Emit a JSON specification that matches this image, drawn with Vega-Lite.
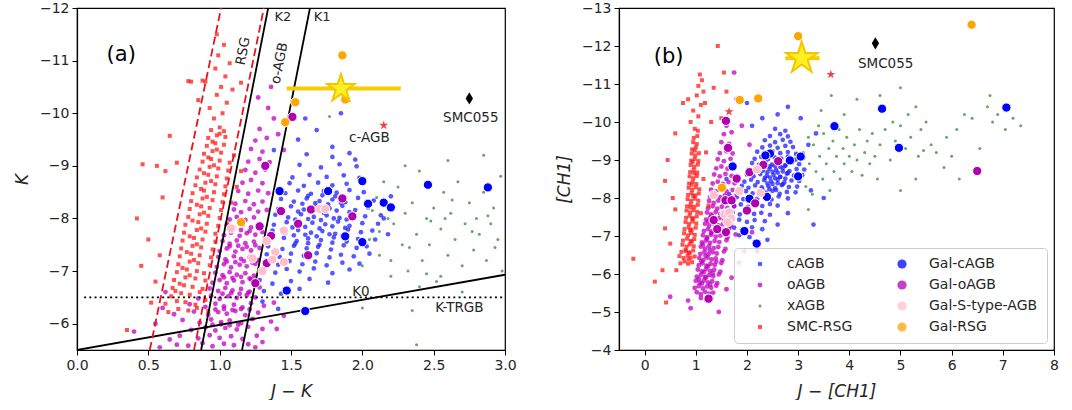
{
"$schema":"https://vega.github.io/schema/vega-lite/v6.json",
"background":"white",
"padding":{"left":12,"top":0,"right":0,"bottom":0},
"spacing":37,
"config":{
 "font":"DejaVu Sans",
 "view":{"stroke":"#000","strokeWidth":1.2},
 "axis":{"grid":false,"labelFlush":false,"labelOverlap":false,"domainColor":"#000","domainWidth":1.2,"tickColor":"#000","tickSize":5,"tickWidth":1,"labelFont":"DejaVu Sans","labelFontSize":14,"labelColor":"#262626","labelPadding":3,"titleFont":"DejaVu Sans","titleFontSize":17,"titleFontWeight":"normal","titleFontStyle":"italic","titleColor":"#262626"},
 "axisX":{"titlePadding":11},
 "axisY":{"titlePadding":8}
},
"resolve":{"scale":{"color":"independent","size":"independent","shape":"independent"},"legend":{"color":"independent","size":"independent","shape":"independent"}},
"datasets":{
"sa":[
{"x":1.31,"cAGB":-6.62},{"x":1.43,"cAGB":-6.57},{"x":1.56,"cAGB":-6.66},
{"x":1.28,"cAGB":-6.83},{"x":1.37,"cAGB":-6.76},{"x":1.5,"cAGB":-6.81},{"x":1.63,"cAGB":-6.85},{"x":1.76,"cAGB":-6.78},
{"x":1.3,"cAGB":-7.02},{"x":1.39,"cAGB":-6.97},{"x":1.47,"cAGB":-7.04},{"x":1.56,"cAGB":-6.99},{"x":1.66,"cAGB":-7.05},{"x":1.79,"cAGB":-6.96},{"x":1.91,"cAGB":-7.03},
{"x":1.32,"cAGB":-7.17},{"x":1.41,"cAGB":-7.12},{"x":1.49,"cAGB":-7.19},{"x":1.58,"cAGB":-7.13},{"x":1.67,"cAGB":-7.18},{"x":1.75,"cAGB":-7.11},{"x":1.86,"cAGB":-7.16},{"x":1.98,"cAGB":-7.14},
{"x":1.33,"cAGB":-7.32},{"x":1.42,"cAGB":-7.27},{"x":1.5,"cAGB":-7.33},{"x":1.59,"cAGB":-7.29},{"x":1.68,"cAGB":-7.34},{"x":1.77,"cAGB":-7.26},{"x":1.85,"cAGB":-7.31},{"x":1.94,"cAGB":-7.28},{"x":2.05,"cAGB":-7.33},
{"x":1.34,"cAGB":-7.47},{"x":1.44,"cAGB":-7.42},{"x":1.52,"cAGB":-7.48},{"x":1.61,"cAGB":-7.43},{"x":1.69,"cAGB":-7.46},{"x":1.78,"cAGB":-7.41},{"x":1.87,"cAGB":-7.49},{"x":1.96,"cAGB":-7.44},{"x":2.03,"cAGB":-7.47},
{"x":1.35,"cAGB":-7.58},{"x":1.45,"cAGB":-7.63},{"x":1.54,"cAGB":-7.57},{"x":1.62,"cAGB":-7.62},{"x":1.71,"cAGB":-7.59},{"x":1.8,"cAGB":-7.64},{"x":1.89,"cAGB":-7.56},{"x":1.97,"cAGB":-7.61},{"x":2.09,"cAGB":-7.6},
{"x":1.37,"cAGB":-7.77},{"x":1.46,"cAGB":-7.72},{"x":1.55,"cAGB":-7.78},{"x":1.64,"cAGB":-7.73},{"x":1.72,"cAGB":-7.76},{"x":1.81,"cAGB":-7.71},{"x":1.9,"cAGB":-7.79},{"x":1.99,"cAGB":-7.74},{"x":2.07,"cAGB":-7.77},
{"x":1.38,"cAGB":-7.88},{"x":1.47,"cAGB":-7.93},{"x":1.56,"cAGB":-7.87},{"x":1.65,"cAGB":-7.92},{"x":1.74,"cAGB":-7.89},{"x":1.83,"cAGB":-7.94},{"x":1.91,"cAGB":-7.86},{"x":2.0,"cAGB":-7.91},{"x":2.11,"cAGB":-7.9},
{"x":1.39,"cAGB":-8.07},{"x":1.48,"cAGB":-8.02},{"x":1.57,"cAGB":-8.08},{"x":1.66,"cAGB":-8.03},{"x":1.75,"cAGB":-8.06},{"x":1.84,"cAGB":-8.01},{"x":1.93,"cAGB":-8.09},{"x":2.02,"cAGB":-8.04},{"x":2.13,"cAGB":-8.06},
{"x":1.41,"cAGB":-8.18},{"x":1.5,"cAGB":-8.23},{"x":1.59,"cAGB":-8.17},{"x":1.68,"cAGB":-8.22},{"x":1.77,"cAGB":-8.19},{"x":1.86,"cAGB":-8.24},{"x":1.95,"cAGB":-8.16},{"x":2.04,"cAGB":-8.21},
{"x":1.43,"cAGB":-8.37},{"x":1.52,"cAGB":-8.32},{"x":1.61,"cAGB":-8.38},{"x":1.7,"cAGB":-8.33},{"x":1.79,"cAGB":-8.36},{"x":1.88,"cAGB":-8.31},{"x":1.97,"cAGB":-8.39},{"x":2.08,"cAGB":-8.34},
{"x":1.46,"cAGB":-8.48},{"x":1.55,"cAGB":-8.53},{"x":1.64,"cAGB":-8.47},{"x":1.73,"cAGB":-8.52},{"x":1.82,"cAGB":-8.49},{"x":1.91,"cAGB":-8.54},{"x":2.01,"cAGB":-8.5},
{"x":1.49,"cAGB":-8.67},{"x":1.59,"cAGB":-8.62},{"x":1.69,"cAGB":-8.68},{"x":1.79,"cAGB":-8.63},{"x":1.89,"cAGB":-8.66},
{"x":1.51,"cAGB":-8.78},{"x":1.63,"cAGB":-8.83},{"x":1.75,"cAGB":-8.79},{"x":1.87,"cAGB":-8.82},{"x":1.98,"cAGB":-8.77},
{"x":1.56,"cAGB":-9.02},{"x":1.71,"cAGB":-8.97},{"x":1.84,"cAGB":-9.03},{"x":1.96,"cAGB":-8.99},
{"x":1.61,"cAGB":-9.22},{"x":1.79,"cAGB":-9.17},{"x":1.91,"cAGB":-9.24},
{"x":1.53,"cAGB":-7.52},{"x":1.62,"cAGB":-7.53},{"x":1.7,"cAGB":-7.5},{"x":1.79,"cAGB":-7.54},{"x":1.52,"cAGB":-7.68},{"x":1.6,"cAGB":-7.69},{"x":1.68,"cAGB":-7.66},{"x":1.77,"cAGB":-7.7},{"x":1.86,"cAGB":-7.67},{"x":1.51,"cAGB":-7.83},{"x":1.6,"cAGB":-7.84},{"x":1.7,"cAGB":-7.81},{"x":1.79,"cAGB":-7.85},{"x":1.88,"cAGB":-7.82},{"x":1.53,"cAGB":-7.98},{"x":1.62,"cAGB":-7.99},{"x":1.71,"cAGB":-7.97},{"x":1.8,"cAGB":-8.0},{"x":1.89,"cAGB":-7.98},{"x":1.55,"cAGB":-8.13},{"x":1.64,"cAGB":-8.14},{"x":1.73,"cAGB":-8.11},{"x":1.82,"cAGB":-8.15},{"x":1.91,"cAGB":-8.12},{"x":1.58,"cAGB":-8.28},{"x":1.67,"cAGB":-8.29},{"x":1.76,"cAGB":-8.27},{"x":1.85,"cAGB":-8.3},{"x":1.62,"cAGB":-8.43},{"x":1.72,"cAGB":-8.44},{"x":1.81,"cAGB":-8.42},
{"x":1.55,"cAGB":-9.5},{"x":1.68,"cAGB":-9.68},{"x":1.79,"cAGB":-9.36},{"x":1.45,"cAGB":-9.8},{"x":1.85,"cAGB":-10.0},{"x":1.95,"cAGB":-9.12},{"x":1.38,"cAGB":-9.3},{"x":2.15,"cAGB":-8.0},{"x":2.18,"cAGB":-7.7},{"x":2.2,"cAGB":-8.42},{"x":1.3,"cAGB":-6.42},{"x":1.41,"cAGB":-6.28},{"x":1.26,"cAGB":-7.2},{"x":1.6,"cAGB":-9.9},
{"x":0.78,"oAGB":-5.58},{"x":0.88,"oAGB":-5.63},{"x":0.95,"oAGB":-5.57},{"x":1.03,"oAGB":-5.62},{"x":1.1,"oAGB":-5.59},{"x":1.2,"oAGB":-5.61},
{"x":0.72,"oAGB":-5.77},{"x":0.85,"oAGB":-5.72},{"x":0.93,"oAGB":-5.78},{"x":1.0,"oAGB":-5.73},{"x":1.08,"oAGB":-5.76},{"x":1.16,"oAGB":-5.71},{"x":1.26,"oAGB":-5.77},
{"x":0.8,"oAGB":-5.88},{"x":0.9,"oAGB":-5.93},{"x":0.97,"oAGB":-5.87},{"x":1.04,"oAGB":-5.92},{"x":1.12,"oAGB":-5.89},{"x":1.2,"oAGB":-5.94},{"x":1.3,"oAGB":-5.9},
{"x":0.74,"oAGB":-6.07},{"x":0.86,"oAGB":-6.02},{"x":0.94,"oAGB":-6.08},{"x":1.01,"oAGB":-6.03},{"x":1.07,"oAGB":-6.06},{"x":1.15,"oAGB":-6.01},{"x":1.23,"oAGB":-6.09},{"x":1.36,"oAGB":-6.04},
{"x":0.68,"oAGB":-6.18},{"x":0.82,"oAGB":-6.23},{"x":0.92,"oAGB":-6.17},{"x":0.99,"oAGB":-6.22},{"x":1.05,"oAGB":-6.19},{"x":1.11,"oAGB":-6.24},{"x":1.18,"oAGB":-6.16},{"x":1.27,"oAGB":-6.21},
{"x":0.79,"oAGB":-6.37},{"x":0.9,"oAGB":-6.32},{"x":0.97,"oAGB":-6.38},{"x":1.03,"oAGB":-6.33},{"x":1.1,"oAGB":-6.36},{"x":1.16,"oAGB":-6.31},{"x":1.22,"oAGB":-6.39},{"x":1.31,"oAGB":-6.34},
{"x":0.85,"oAGB":-6.48},{"x":0.94,"oAGB":-6.53},{"x":1.0,"oAGB":-6.47},{"x":1.06,"oAGB":-6.52},{"x":1.12,"oAGB":-6.49},{"x":1.19,"oAGB":-6.54},{"x":1.25,"oAGB":-6.5},
{"x":0.93,"oAGB":-6.67},{"x":0.99,"oAGB":-6.62},{"x":1.04,"oAGB":-6.68},{"x":1.09,"oAGB":-6.63},{"x":1.15,"oAGB":-6.66},{"x":1.21,"oAGB":-6.61},{"x":1.28,"oAGB":-6.69},
{"x":0.95,"oAGB":-6.78},{"x":1.0,"oAGB":-6.83},{"x":1.05,"oAGB":-6.77},{"x":1.1,"oAGB":-6.82},{"x":1.16,"oAGB":-6.79},{"x":1.22,"oAGB":-6.84},{"x":1.27,"oAGB":-6.8},
{"x":0.97,"oAGB":-6.97},{"x":1.02,"oAGB":-6.92},{"x":1.07,"oAGB":-6.98},{"x":1.12,"oAGB":-6.93},{"x":1.18,"oAGB":-6.96},{"x":1.24,"oAGB":-6.91},{"x":1.3,"oAGB":-6.99},
{"x":0.98,"oAGB":-7.08},{"x":1.03,"oAGB":-7.13},{"x":1.08,"oAGB":-7.07},{"x":1.14,"oAGB":-7.12},{"x":1.19,"oAGB":-7.09},{"x":1.25,"oAGB":-7.14},
{"x":0.99,"oAGB":-7.27},{"x":1.04,"oAGB":-7.22},{"x":1.1,"oAGB":-7.28},{"x":1.15,"oAGB":-7.23},{"x":1.21,"oAGB":-7.26},{"x":1.27,"oAGB":-7.21},
{"x":1.0,"oAGB":-7.38},{"x":1.05,"oAGB":-7.43},{"x":1.11,"oAGB":-7.37},{"x":1.16,"oAGB":-7.42},{"x":1.22,"oAGB":-7.39},{"x":1.28,"oAGB":-7.44},
{"x":1.02,"oAGB":-7.57},{"x":1.07,"oAGB":-7.52},{"x":1.12,"oAGB":-7.58},{"x":1.18,"oAGB":-7.53},{"x":1.24,"oAGB":-7.56},
{"x":1.03,"oAGB":-7.68},{"x":1.08,"oAGB":-7.73},{"x":1.14,"oAGB":-7.67},{"x":1.19,"oAGB":-7.72},{"x":1.25,"oAGB":-7.69},{"x":1.3,"oAGB":-7.74},
{"x":1.05,"oAGB":-7.87},{"x":1.1,"oAGB":-7.82},{"x":1.16,"oAGB":-7.88},{"x":1.22,"oAGB":-7.83},{"x":1.28,"oAGB":-7.86},
{"x":1.07,"oAGB":-7.98},{"x":1.12,"oAGB":-8.03},{"x":1.18,"oAGB":-7.97},{"x":1.24,"oAGB":-8.02},
{"x":1.1,"oAGB":-8.17},{"x":1.15,"oAGB":-8.12},{"x":1.21,"oAGB":-8.18},{"x":1.27,"oAGB":-8.13},{"x":1.33,"oAGB":-8.16},
{"x":1.11,"oAGB":-8.28},{"x":1.18,"oAGB":-8.33},{"x":1.24,"oAGB":-8.27},{"x":1.3,"oAGB":-8.32},
{"x":1.13,"oAGB":-8.52},{"x":1.2,"oAGB":-8.47},{"x":1.27,"oAGB":-8.53},{"x":1.34,"oAGB":-8.48},
{"x":1.16,"oAGB":-8.68},{"x":1.22,"oAGB":-8.73},{"x":1.3,"oAGB":-8.67},
{"x":1.18,"oAGB":-8.92},{"x":1.25,"oAGB":-8.87},{"x":1.32,"oAGB":-8.93},
{"x":1.2,"oAGB":-9.08},{"x":1.28,"oAGB":-9.13},{"x":1.35,"oAGB":-9.07},
{"x":1.22,"oAGB":-9.32},{"x":1.3,"oAGB":-9.27},{"x":1.25,"oAGB":-9.48},{"x":1.33,"oAGB":-9.53},
{"x":1.28,"oAGB":-9.7},{"x":1.38,"oAGB":-9.9},{"x":1.34,"oAGB":-10.1},{"x":1.27,"oAGB":-10.3},{"x":1.36,"oAGB":-10.5},{"x":1.41,"oAGB":-9.6},{"x":1.45,"oAGB":-9.3},
{"x":0.6,"oAGB":-6.3},{"x":0.55,"oAGB":-6.0},{"x":0.65,"oAGB":-5.7},{"x":0.4,"oAGB":-5.85},{"x":0.7,"oAGB":-5.6},{"x":1.4,"oAGB":-5.9},{"x":1.45,"oAGB":-6.15},{"x":1.3,"oAGB":-5.65},{"x":1.25,"oAGB":-5.55},{"x":1.38,"oAGB":-6.4},{"x":0.62,"oAGB":-6.6},{"x":0.58,"oAGB":-5.55},
{"x":1.02,"oAGB":-6.57},{"x":1.08,"oAGB":-6.58},{"x":1.14,"oAGB":-6.57},{"x":1.2,"oAGB":-6.59},{"x":1.03,"oAGB":-6.88},{"x":1.09,"oAGB":-6.87},{"x":1.15,"oAGB":-6.89},{"x":1.21,"oAGB":-6.86},{"x":1.05,"oAGB":-7.18},{"x":1.11,"oAGB":-7.17},{"x":1.17,"oAGB":-7.19},{"x":1.23,"oAGB":-7.16},{"x":1.07,"oAGB":-7.47},{"x":1.13,"oAGB":-7.48},{"x":1.19,"oAGB":-7.46},{"x":1.25,"oAGB":-7.49},{"x":1.09,"oAGB":-7.77},{"x":1.15,"oAGB":-7.78},{"x":1.21,"oAGB":-7.76},{"x":0.97,"oAGB":-6.27},{"x":1.03,"oAGB":-6.28},{"x":1.09,"oAGB":-6.26},{"x":1.15,"oAGB":-6.28},{"x":1.21,"oAGB":-6.27},{"x":0.95,"oAGB":-5.98},{"x":1.01,"oAGB":-5.99},{"x":1.07,"oAGB":-5.97},{"x":1.13,"oAGB":-5.98},
{"x":2.0,"xAGB":-7.1},{"x":2.05,"xAGB":-7.6},{"x":2.1,"xAGB":-8.4},{"x":2.12,"xAGB":-7.3},{"x":2.18,"xAGB":-8.0},{"x":2.2,"xAGB":-6.9},{"x":2.22,"xAGB":-7.9},{"x":2.25,"xAGB":-8.6},{"x":2.28,"xAGB":-7.5},{"x":2.3,"xAGB":-8.1},{"x":2.32,"xAGB":-7.0},{"x":2.35,"xAGB":-8.3},{"x":2.38,"xAGB":-7.7},{"x":2.4,"xAGB":-8.9},{"x":2.42,"xAGB":-7.2},{"x":2.45,"xAGB":-8.0},{"x":2.47,"xAGB":-7.5},{"x":2.5,"xAGB":-8.2},{"x":2.52,"xAGB":-6.8},{"x":2.55,"xAGB":-7.8},{"x":2.57,"xAGB":-8.5},{"x":2.6,"xAGB":-7.3},{"x":2.62,"xAGB":-8.1},{"x":2.65,"xAGB":-7.6},{"x":2.67,"xAGB":-8.7},{"x":2.7,"xAGB":-7.1},{"x":2.72,"xAGB":-7.9},{"x":2.75,"xAGB":-8.3},{"x":2.78,"xAGB":-7.4},{"x":2.8,"xAGB":-8.0},{"x":2.82,"xAGB":-7.7},{"x":2.85,"xAGB":-8.5},{"x":2.87,"xAGB":-7.2},{"x":2.9,"xAGB":-7.9},{"x":2.92,"xAGB":-8.2},{"x":2.95,"xAGB":-7.6},{"x":2.97,"xAGB":-8.8},{"x":2.98,"xAGB":-7.0},{"x":2.15,"xAGB":-8.7},{"x":2.3,"xAGB":-9.0},{"x":2.6,"xAGB":-9.1},{"x":2.85,"xAGB":-9.2},{"x":2.4,"xAGB":-6.7},{"x":2.7,"xAGB":-6.6},{"x":2.2,"xAGB":-7.2},{"x":2.33,"xAGB":-7.45},{"x":2.48,"xAGB":-7.95},{"x":2.58,"xAGB":-8.0},{"x":2.63,"xAGB":-8.35},{"x":2.77,"xAGB":-7.75},{"x":2.88,"xAGB":-8.05},{"x":2.93,"xAGB":-7.45},{"x":2.07,"xAGB":-8.15},{"x":2.12,"xAGB":-7.75},{"x":2.45,"xAGB":-6.95},{"x":2.55,"xAGB":-6.9},{"x":2.35,"xAGB":-6.25},{"x":2.38,"xAGB":-5.6},{"x":2.0,"xAGB":-6.3},{"x":1.77,"xAGB":-9.94},
{"x":0.64,"SMC-RSG":-6.22},{"x":0.71,"SMC-RSG":-6.28},{"x":0.78,"SMC-RSG":-6.25},{"x":0.84,"SMC-RSG":-6.3},{"x":0.92,"SMC-RSG":-6.24},
{"x":0.62,"SMC-RSG":-6.38},{"x":0.7,"SMC-RSG":-6.43},{"x":0.76,"SMC-RSG":-6.41},{"x":0.83,"SMC-RSG":-6.36},{"x":0.9,"SMC-RSG":-6.45},
{"x":0.66,"SMC-RSG":-6.52},{"x":0.73,"SMC-RSG":-6.58},{"x":0.79,"SMC-RSG":-6.55},{"x":0.86,"SMC-RSG":-6.6},{"x":0.69,"SMC-RSG":-6.62},
{"x":0.67,"SMC-RSG":-6.68},{"x":0.75,"SMC-RSG":-6.73},{"x":0.81,"SMC-RSG":-6.7},{"x":0.88,"SMC-RSG":-6.66},{"x":0.72,"SMC-RSG":-6.76},
{"x":0.68,"SMC-RSG":-6.83},{"x":0.76,"SMC-RSG":-6.88},{"x":0.83,"SMC-RSG":-6.86},{"x":0.9,"SMC-RSG":-6.82},{"x":0.79,"SMC-RSG":-6.92},
{"x":0.7,"SMC-RSG":-6.98},{"x":0.77,"SMC-RSG":-7.03},{"x":0.84,"SMC-RSG":-7.0},{"x":0.89,"SMC-RSG":-6.96},{"x":0.74,"SMC-RSG":-7.06},
{"x":0.71,"SMC-RSG":-7.13},{"x":0.79,"SMC-RSG":-7.18},{"x":0.85,"SMC-RSG":-7.15},{"x":0.93,"SMC-RSG":-7.11},{"x":0.82,"SMC-RSG":-7.21},
{"x":0.72,"SMC-RSG":-7.28},{"x":0.8,"SMC-RSG":-7.33},{"x":0.86,"SMC-RSG":-7.3},{"x":0.94,"SMC-RSG":-7.26},{"x":0.77,"SMC-RSG":-7.36},
{"x":0.73,"SMC-RSG":-7.43},{"x":0.81,"SMC-RSG":-7.48},{"x":0.87,"SMC-RSG":-7.45},{"x":0.95,"SMC-RSG":-7.41},{"x":0.84,"SMC-RSG":-7.51},
{"x":0.74,"SMC-RSG":-7.58},{"x":0.82,"SMC-RSG":-7.63},{"x":0.88,"SMC-RSG":-7.6},{"x":0.97,"SMC-RSG":-7.56},{"x":0.79,"SMC-RSG":-7.66},
{"x":0.75,"SMC-RSG":-7.73},{"x":0.84,"SMC-RSG":-7.78},{"x":0.9,"SMC-RSG":-7.75},{"x":0.97,"SMC-RSG":-7.71},{"x":0.87,"SMC-RSG":-7.81},
{"x":0.76,"SMC-RSG":-7.88},{"x":0.85,"SMC-RSG":-7.93},{"x":0.91,"SMC-RSG":-7.9},{"x":0.99,"SMC-RSG":-7.86},{"x":0.81,"SMC-RSG":-7.96},
{"x":0.78,"SMC-RSG":-8.03},{"x":0.86,"SMC-RSG":-8.08},{"x":0.92,"SMC-RSG":-8.05},{"x":1.0,"SMC-RSG":-8.01},{"x":0.89,"SMC-RSG":-8.11},
{"x":0.79,"SMC-RSG":-8.18},{"x":0.87,"SMC-RSG":-8.23},{"x":0.93,"SMC-RSG":-8.2},{"x":1.01,"SMC-RSG":-8.16},{"x":0.84,"SMC-RSG":-8.26},
{"x":0.8,"SMC-RSG":-8.33},{"x":0.88,"SMC-RSG":-8.38},{"x":0.95,"SMC-RSG":-8.35},{"x":1.02,"SMC-RSG":-8.31},{"x":0.91,"SMC-RSG":-8.41},
{"x":0.81,"SMC-RSG":-8.48},{"x":0.89,"SMC-RSG":-8.53},{"x":0.96,"SMC-RSG":-8.5},{"x":1.03,"SMC-RSG":-8.46},{"x":0.87,"SMC-RSG":-8.56},
{"x":0.83,"SMC-RSG":-8.63},{"x":0.9,"SMC-RSG":-8.68},{"x":0.97,"SMC-RSG":-8.65},{"x":1.04,"SMC-RSG":-8.61},{"x":0.94,"SMC-RSG":-8.71},
{"x":0.84,"SMC-RSG":-8.78},{"x":0.92,"SMC-RSG":-8.83},{"x":0.98,"SMC-RSG":-8.8},{"x":1.05,"SMC-RSG":-8.76},{"x":0.89,"SMC-RSG":-8.86},
{"x":0.86,"SMC-RSG":-8.93},{"x":0.93,"SMC-RSG":-8.98},{"x":0.99,"SMC-RSG":-8.95},{"x":1.06,"SMC-RSG":-8.91},{"x":0.96,"SMC-RSG":-9.01},
{"x":0.88,"SMC-RSG":-9.08},{"x":0.94,"SMC-RSG":-9.13},{"x":1.0,"SMC-RSG":-9.1},{"x":1.07,"SMC-RSG":-9.06},{"x":0.92,"SMC-RSG":-9.16},
{"x":0.89,"SMC-RSG":-9.23},{"x":0.95,"SMC-RSG":-9.28},{"x":1.01,"SMC-RSG":-9.25},{"x":0.98,"SMC-RSG":-9.31},
{"x":0.91,"SMC-RSG":-9.38},{"x":0.97,"SMC-RSG":-9.43},{"x":1.03,"SMC-RSG":-9.4},{"x":0.95,"SMC-RSG":-9.46},
{"x":0.92,"SMC-RSG":-9.53},{"x":0.98,"SMC-RSG":-9.58},{"x":1.04,"SMC-RSG":-9.55},{"x":1.0,"SMC-RSG":-9.61},
{"x":0.94,"SMC-RSG":-9.68},{"x":1.0,"SMC-RSG":-9.73},{"x":1.03,"SMC-RSG":-9.66},
{"x":0.96,"SMC-RSG":-9.9},{"x":1.02,"SMC-RSG":-10.0},{"x":0.93,"SMC-RSG":-10.1},{"x":1.05,"SMC-RSG":-10.2},{"x":0.98,"SMC-RSG":-10.35},{"x":1.01,"SMC-RSG":-10.5},{"x":0.9,"SMC-RSG":-10.6},{"x":1.04,"SMC-RSG":-10.7},{"x":0.97,"SMC-RSG":-10.85},{"x":1.07,"SMC-RSG":-10.95},{"x":0.99,"SMC-RSG":-11.1},{"x":1.03,"SMC-RSG":-11.3},{"x":0.98,"SMC-RSG":-11.5},{"x":0.88,"SMC-RSG":-10.62},{"x":1.09,"SMC-RSG":-10.45},{"x":0.85,"SMC-RSG":-10.25},{"x":0.8,"SMC-RSG":-10.6},{"x":1.15,"SMC-RSG":-10.58},{"x":0.78,"SMC-RSG":-10.61},
{"x":0.46,"SMC-RSG":-9.03},{"x":0.56,"SMC-RSG":-9.0},{"x":0.65,"SMC-RSG":-9.57},{"x":0.7,"SMC-RSG":-9.06},{"x":0.42,"SMC-RSG":-8.0},{"x":0.5,"SMC-RSG":-7.6},{"x":0.45,"SMC-RSG":-7.1},{"x":0.55,"SMC-RSG":-6.8},{"x":0.35,"SMC-RSG":-5.88},{"x":0.6,"SMC-RSG":-8.4},{"x":0.58,"SMC-RSG":-7.3},{"x":0.52,"SMC-RSG":-6.4},{"x":0.62,"SMC-RSG":-8.9},
{"x":1.08,"SMC-RSG":-8.3},{"x":1.12,"SMC-RSG":-8.6},{"x":1.05,"SMC-RSG":-7.9},{"x":1.1,"SMC-RSG":-9.2},{"x":1.15,"SMC-RSG":-8.9}
],
"ga":[
{"x":1.42,"y":-8.52,"c":"Gal-cAGB"},{"x":1.76,"y":-8.52,"c":"Gal-cAGB"},{"x":2.0,"y":-8.71,"c":"Gal-cAGB"},{"x":2.04,"y":-8.28,"c":"Gal-cAGB"},{"x":2.15,"y":-8.3,"c":"Gal-cAGB"},{"x":2.2,"y":-8.21,"c":"Gal-cAGB"},{"x":2.46,"y":-8.64,"c":"Gal-cAGB"},{"x":2.88,"y":-8.59,"c":"Gal-cAGB"},{"x":1.88,"y":-7.66,"c":"Gal-cAGB"},{"x":2.0,"y":-7.55,"c":"Gal-cAGB"},{"x":1.47,"y":-6.63,"c":"Gal-cAGB"},{"x":1.6,"y":-6.24,"c":"Gal-cAGB"},
{"x":1.51,"y":-9.93,"c":"Gal-oAGB"},{"x":1.32,"y":-9.0,"c":"Gal-oAGB"},{"x":1.43,"y":-8.14,"c":"Gal-oAGB"},{"x":1.64,"y":-8.17,"c":"Gal-oAGB"},{"x":1.55,"y":-7.9,"c":"Gal-oAGB"},{"x":1.86,"y":-8.38,"c":"Gal-oAGB"},{"x":1.93,"y":-8.04,"c":"Gal-oAGB"},{"x":1.62,"y":-7.3,"c":"Gal-oAGB"},{"x":1.36,"y":-7.67,"c":"Gal-oAGB"},{"x":1.33,"y":-7.15,"c":"Gal-oAGB"},{"x":1.25,"y":-6.77,"c":"Gal-oAGB"},{"x":1.28,"y":-7.85,"c":"Gal-oAGB"},
{"x":1.08,"y":-7.81,"c":"Gal-S-type-AGB"},{"x":1.23,"y":-7.24,"c":"Gal-S-type-AGB"},{"x":1.45,"y":-7.77,"c":"Gal-S-type-AGB"},{"x":1.39,"y":-7.36,"c":"Gal-S-type-AGB"},{"x":1.37,"y":-7.22,"c":"Gal-S-type-AGB"},{"x":1.45,"y":-7.17,"c":"Gal-S-type-AGB"},{"x":1.7,"y":-8.18,"c":"Gal-S-type-AGB"},{"x":1.74,"y":-8.18,"c":"Gal-S-type-AGB"},{"x":1.33,"y":-7.57,"c":"Gal-S-type-AGB"},{"x":1.3,"y":-7.0,"c":"Gal-S-type-AGB"},
{"x":1.86,"y":-11.1,"c":"Gal-RSG"},{"x":1.53,"y":-10.21,"c":"Gal-RSG"},{"x":1.46,"y":-9.83,"c":"Gal-RSG"},{"x":1.15,"y":-7.93,"c":"Gal-RSG"},{"x":1.88,"y":-10.26,"c":"Gal-RSG"}
],
"sb":[
{"x":1.85,"cAGB":-7.02},{"x":2.05,"cAGB":-6.97},
{"x":1.75,"cAGB":-7.22},{"x":1.9,"cAGB":-7.17},{"x":2.1,"cAGB":-7.23},{"x":2.3,"cAGB":-7.18},
{"x":1.7,"cAGB":-7.38},{"x":1.85,"cAGB":-7.43},{"x":2.0,"cAGB":-7.37},{"x":2.15,"cAGB":-7.42},{"x":2.35,"cAGB":-7.39},
{"x":1.72,"cAGB":-7.62},{"x":1.86,"cAGB":-7.57},{"x":2.0,"cAGB":-7.63},{"x":2.14,"cAGB":-7.58},{"x":2.28,"cAGB":-7.61},{"x":2.45,"cAGB":-7.56},
{"x":1.75,"cAGB":-7.78},{"x":1.88,"cAGB":-7.83},{"x":2.02,"cAGB":-7.77},{"x":2.16,"cAGB":-7.82},{"x":2.3,"cAGB":-7.79},{"x":2.45,"cAGB":-7.84},{"x":2.6,"cAGB":-7.8},
{"x":1.8,"cAGB":-8.02},{"x":1.93,"cAGB":-7.97},{"x":2.06,"cAGB":-8.03},{"x":2.2,"cAGB":-7.98},{"x":2.34,"cAGB":-8.01},{"x":2.48,"cAGB":-7.96},{"x":2.62,"cAGB":-8.04},{"x":2.8,"cAGB":-7.99},
{"x":1.85,"cAGB":-8.13},{"x":1.98,"cAGB":-8.18},{"x":2.11,"cAGB":-8.12},{"x":2.24,"cAGB":-8.17},{"x":2.37,"cAGB":-8.14},{"x":2.5,"cAGB":-8.19},{"x":2.64,"cAGB":-8.11},{"x":2.78,"cAGB":-8.16},{"x":2.95,"cAGB":-8.15},
{"x":1.9,"cAGB":-8.32},{"x":2.03,"cAGB":-8.27},{"x":2.16,"cAGB":-8.33},{"x":2.29,"cAGB":-8.28},{"x":2.42,"cAGB":-8.31},{"x":2.55,"cAGB":-8.26},{"x":2.68,"cAGB":-8.34},{"x":2.82,"cAGB":-8.29},{"x":2.98,"cAGB":-8.3},
{"x":1.95,"cAGB":-8.43},{"x":2.08,"cAGB":-8.48},{"x":2.21,"cAGB":-8.42},{"x":2.34,"cAGB":-8.47},{"x":2.47,"cAGB":-8.44},{"x":2.6,"cAGB":-8.49},{"x":2.73,"cAGB":-8.41},{"x":2.87,"cAGB":-8.46},{"x":3.02,"cAGB":-8.45},
{"x":2.0,"cAGB":-8.62},{"x":2.13,"cAGB":-8.57},{"x":2.26,"cAGB":-8.63},{"x":2.39,"cAGB":-8.58},{"x":2.52,"cAGB":-8.61},{"x":2.65,"cAGB":-8.56},{"x":2.78,"cAGB":-8.64},{"x":2.92,"cAGB":-8.59},{"x":3.08,"cAGB":-8.6},
{"x":2.05,"cAGB":-8.73},{"x":2.18,"cAGB":-8.78},{"x":2.31,"cAGB":-8.72},{"x":2.44,"cAGB":-8.77},{"x":2.57,"cAGB":-8.74},{"x":2.7,"cAGB":-8.79},{"x":2.83,"cAGB":-8.71},{"x":2.97,"cAGB":-8.76},{"x":3.12,"cAGB":-8.75},
{"x":2.1,"cAGB":-8.92},{"x":2.23,"cAGB":-8.87},{"x":2.36,"cAGB":-8.93},{"x":2.49,"cAGB":-8.88},{"x":2.62,"cAGB":-8.91},{"x":2.75,"cAGB":-8.86},{"x":2.88,"cAGB":-8.94},{"x":3.02,"cAGB":-8.89},
{"x":2.15,"cAGB":-9.03},{"x":2.28,"cAGB":-9.08},{"x":2.41,"cAGB":-9.02},{"x":2.54,"cAGB":-9.07},{"x":2.67,"cAGB":-9.04},{"x":2.8,"cAGB":-9.09},{"x":2.95,"cAGB":-9.01},{"x":3.1,"cAGB":-9.06},
{"x":2.2,"cAGB":-9.22},{"x":2.35,"cAGB":-9.17},{"x":2.5,"cAGB":-9.23},{"x":2.65,"cAGB":-9.18},{"x":2.8,"cAGB":-9.21},{"x":2.96,"cAGB":-9.16},
{"x":2.3,"cAGB":-9.33},{"x":2.45,"cAGB":-9.38},{"x":2.6,"cAGB":-9.32},{"x":2.75,"cAGB":-9.37},{"x":2.9,"cAGB":-9.34},
{"x":2.35,"cAGB":-9.52},{"x":2.55,"cAGB":-9.47},{"x":2.7,"cAGB":-9.53},{"x":2.85,"cAGB":-9.48},
{"x":2.45,"cAGB":-9.63},{"x":2.65,"cAGB":-9.68},{"x":2.8,"cAGB":-9.62},{"x":2.55,"cAGB":-9.82},{"x":2.75,"cAGB":-9.77},
{"x":2.4,"cAGB":-8.38},{"x":2.5,"cAGB":-8.37},{"x":2.6,"cAGB":-8.39},{"x":2.7,"cAGB":-8.36},{"x":2.35,"cAGB":-8.53},{"x":2.45,"cAGB":-8.54},{"x":2.55,"cAGB":-8.52},{"x":2.65,"cAGB":-8.55},{"x":2.75,"cAGB":-8.51},{"x":2.4,"cAGB":-8.68},{"x":2.5,"cAGB":-8.69},{"x":2.6,"cAGB":-8.67},{"x":2.7,"cAGB":-8.7},{"x":2.8,"cAGB":-8.66},{"x":2.45,"cAGB":-8.83},{"x":2.55,"cAGB":-8.84},{"x":2.65,"cAGB":-8.82},{"x":2.75,"cAGB":-8.85},{"x":2.3,"cAGB":-8.22},{"x":2.44,"cAGB":-8.23},{"x":2.57,"cAGB":-8.21},
{"x":2.1,"cAGB":-9.9},{"x":2.3,"cAGB":-10.1},{"x":2.6,"cAGB":-10.2},{"x":2.8,"cAGB":-10.4},{"x":3.05,"cAGB":-10.1},{"x":2.0,"cAGB":-10.5},{"x":3.3,"cAGB":-7.3},{"x":3.5,"cAGB":-8.0},{"x":3.25,"cAGB":-8.2},{"x":2.6,"cAGB":-7.3},{"x":2.8,"cAGB":-7.6},{"x":3.2,"cAGB":-9.4},{"x":3.35,"cAGB":-9.7},{"x":1.65,"cAGB":-8.1},{"x":1.6,"cAGB":-8.5},{"x":2.4,"cAGB":-6.9},
{"x":1.1,"oAGB":-5.37},{"x":1.2,"oAGB":-5.32},{"x":1.3,"oAGB":-5.36},
{"x":1.02,"oAGB":-5.52},{"x":1.1,"oAGB":-5.47},{"x":1.18,"oAGB":-5.53},{"x":1.26,"oAGB":-5.48},{"x":1.34,"oAGB":-5.51},
{"x":0.98,"oAGB":-5.63},{"x":1.06,"oAGB":-5.68},{"x":1.14,"oAGB":-5.62},{"x":1.22,"oAGB":-5.67},{"x":1.3,"oAGB":-5.64},{"x":1.4,"oAGB":-5.69},
{"x":1.0,"oAGB":-5.82},{"x":1.08,"oAGB":-5.77},{"x":1.16,"oAGB":-5.83},{"x":1.24,"oAGB":-5.78},{"x":1.32,"oAGB":-5.81},{"x":1.42,"oAGB":-5.76},
{"x":1.02,"oAGB":-5.93},{"x":1.1,"oAGB":-5.98},{"x":1.18,"oAGB":-5.92},{"x":1.26,"oAGB":-5.97},{"x":1.34,"oAGB":-5.94},{"x":1.45,"oAGB":-5.99},
{"x":1.04,"oAGB":-6.12},{"x":1.12,"oAGB":-6.07},{"x":1.2,"oAGB":-6.13},{"x":1.28,"oAGB":-6.08},{"x":1.36,"oAGB":-6.11},{"x":1.48,"oAGB":-6.06},
{"x":1.06,"oAGB":-6.23},{"x":1.13,"oAGB":-6.28},{"x":1.21,"oAGB":-6.22},{"x":1.29,"oAGB":-6.27},{"x":1.37,"oAGB":-6.24},{"x":1.5,"oAGB":-6.29},
{"x":1.07,"oAGB":-6.42},{"x":1.15,"oAGB":-6.37},{"x":1.23,"oAGB":-6.43},{"x":1.31,"oAGB":-6.38},{"x":1.39,"oAGB":-6.41},{"x":1.52,"oAGB":-6.36},
{"x":1.09,"oAGB":-6.53},{"x":1.17,"oAGB":-6.58},{"x":1.25,"oAGB":-6.52},{"x":1.33,"oAGB":-6.57},{"x":1.41,"oAGB":-6.54},{"x":1.55,"oAGB":-6.59},
{"x":1.1,"oAGB":-6.72},{"x":1.18,"oAGB":-6.67},{"x":1.26,"oAGB":-6.73},{"x":1.35,"oAGB":-6.68},{"x":1.44,"oAGB":-6.71},{"x":1.58,"oAGB":-6.66},
{"x":1.12,"oAGB":-6.83},{"x":1.2,"oAGB":-6.88},{"x":1.28,"oAGB":-6.82},{"x":1.37,"oAGB":-6.87},{"x":1.46,"oAGB":-6.84},{"x":1.6,"oAGB":-6.89},
{"x":1.14,"oAGB":-7.02},{"x":1.22,"oAGB":-6.97},{"x":1.3,"oAGB":-7.03},{"x":1.39,"oAGB":-6.98},{"x":1.48,"oAGB":-7.01},{"x":1.62,"oAGB":-6.96},{"x":1.78,"oAGB":-7.04},
{"x":1.16,"oAGB":-7.13},{"x":1.24,"oAGB":-7.18},{"x":1.32,"oAGB":-7.12},{"x":1.41,"oAGB":-7.17},{"x":1.5,"oAGB":-7.14},{"x":1.65,"oAGB":-7.19},
{"x":1.18,"oAGB":-7.32},{"x":1.26,"oAGB":-7.27},{"x":1.35,"oAGB":-7.33},{"x":1.44,"oAGB":-7.28},{"x":1.53,"oAGB":-7.31},{"x":1.68,"oAGB":-7.26},
{"x":1.2,"oAGB":-7.43},{"x":1.28,"oAGB":-7.48},{"x":1.37,"oAGB":-7.42},{"x":1.46,"oAGB":-7.47},{"x":1.56,"oAGB":-7.44},{"x":1.7,"oAGB":-7.49},
{"x":1.22,"oAGB":-7.62},{"x":1.3,"oAGB":-7.57},{"x":1.39,"oAGB":-7.63},{"x":1.48,"oAGB":-7.58},{"x":1.58,"oAGB":-7.61},
{"x":1.24,"oAGB":-7.73},{"x":1.33,"oAGB":-7.78},{"x":1.42,"oAGB":-7.72},{"x":1.51,"oAGB":-7.77},{"x":1.62,"oAGB":-7.74},{"x":1.75,"oAGB":-7.79},
{"x":1.26,"oAGB":-7.92},{"x":1.35,"oAGB":-7.87},{"x":1.44,"oAGB":-7.93},{"x":1.54,"oAGB":-7.88},{"x":1.65,"oAGB":-7.91},
{"x":1.28,"oAGB":-8.03},{"x":1.37,"oAGB":-8.08},{"x":1.47,"oAGB":-8.02},{"x":1.57,"oAGB":-8.07},{"x":1.68,"oAGB":-8.04},{"x":1.8,"oAGB":-8.09},
{"x":1.3,"oAGB":-8.22},{"x":1.4,"oAGB":-8.17},{"x":1.5,"oAGB":-8.23},{"x":1.6,"oAGB":-8.18},{"x":1.72,"oAGB":-8.21},
{"x":1.33,"oAGB":-8.38},{"x":1.43,"oAGB":-8.43},{"x":1.53,"oAGB":-8.37},{"x":1.64,"oAGB":-8.42},{"x":1.76,"oAGB":-8.39},
{"x":1.36,"oAGB":-8.62},{"x":1.47,"oAGB":-8.57},{"x":1.58,"oAGB":-8.63},{"x":1.7,"oAGB":-8.58},
{"x":1.4,"oAGB":-8.78},{"x":1.5,"oAGB":-8.83},{"x":1.62,"oAGB":-8.77},{"x":1.75,"oAGB":-8.82},
{"x":1.43,"oAGB":-9.02},{"x":1.55,"oAGB":-8.97},{"x":1.68,"oAGB":-9.03},
{"x":1.47,"oAGB":-9.18},{"x":1.6,"oAGB":-9.23},{"x":1.72,"oAGB":-9.17},
{"x":1.5,"oAGB":-9.47},{"x":1.65,"oAGB":-9.42},{"x":1.55,"oAGB":-9.68},{"x":1.7,"oAGB":-9.73},{"x":1.6,"oAGB":-9.9},
{"x":1.12,"oAGB":-5.75},{"x":1.2,"oAGB":-5.9},{"x":1.16,"oAGB":-6.05},{"x":1.24,"oAGB":-6.2},{"x":1.11,"oAGB":-6.33},{"x":1.19,"oAGB":-6.48},{"x":1.27,"oAGB":-6.63},{"x":1.14,"oAGB":-6.78},{"x":1.22,"oAGB":-6.93},{"x":1.3,"oAGB":-7.08},{"x":1.24,"oAGB":-7.38},{"x":1.32,"oAGB":-7.53},{"x":1.06,"oAGB":-5.87},{"x":1.28,"oAGB":-5.72},{"x":1.33,"oAGB":-6.02},{"x":1.4,"oAGB":-6.32},
{"x":1.8,"oAGB":-10.6},{"x":1.75,"oAGB":-11.3},{"x":1.9,"oAGB":-9.9},{"x":2.05,"oAGB":-9.4},{"x":2.1,"oAGB":-7.1},{"x":1.95,"oAGB":-6.6},{"x":1.85,"oAGB":-6.3},{"x":1.6,"oAGB":-5.6},{"x":0.85,"oAGB":-5.3},{"x":0.9,"oAGB":-5.1},{"x":1.7,"oAGB":-5.9},{"x":2.2,"oAGB":-6.6},{"x":1.45,"oAGB":-5.0},{"x":0.5,"oAGB":-5.4},
{"x":3.05,"xAGB":-8.6},{"x":3.1,"xAGB":-9.2},{"x":3.15,"xAGB":-8.3},{"x":3.2,"xAGB":-9.6},{"x":3.22,"xAGB":-8.9},{"x":3.28,"xAGB":-8.1},{"x":3.3,"xAGB":-9.4},{"x":3.35,"xAGB":-8.7},{"x":3.4,"xAGB":-9.9},{"x":3.42,"xAGB":-9.1},{"x":3.48,"xAGB":-8.5},{"x":3.5,"xAGB":-9.7},{"x":3.55,"xAGB":-8.9},{"x":3.6,"xAGB":-9.3},{"x":3.62,"xAGB":-8.2},{"x":3.68,"xAGB":-9.5},{"x":3.7,"xAGB":-8.7},{"x":3.75,"xAGB":-9.1},{"x":3.8,"xAGB":-9.8},{"x":3.82,"xAGB":-8.5},{"x":3.88,"xAGB":-9.3},{"x":3.9,"xAGB":-8.9},{"x":3.95,"xAGB":-9.6},{"x":4.0,"xAGB":-9.1},{"x":4.05,"xAGB":-8.7},{"x":4.1,"xAGB":-9.4},{"x":4.15,"xAGB":-9.0},{"x":4.2,"xAGB":-9.8},{"x":4.25,"xAGB":-8.6},{"x":4.3,"xAGB":-9.2},{"x":4.35,"xAGB":-9.5},{"x":4.4,"xAGB":-8.9},{"x":4.45,"xAGB":-9.7},{"x":4.5,"xAGB":-9.1},{"x":4.55,"xAGB":-8.5},{"x":4.6,"xAGB":-9.4},{"x":4.7,"xAGB":-9.8},{"x":4.8,"xAGB":-9.0},{"x":4.85,"xAGB":-10.0},{"x":4.9,"xAGB":-9.5},{"x":5.0,"xAGB":-9.9},{"x":5.1,"xAGB":-9.3},{"x":5.15,"xAGB":-10.2},{"x":5.2,"xAGB":-9.6},{"x":5.3,"xAGB":-10.4},{"x":5.35,"xAGB":-9.1},{"x":5.4,"xAGB":-9.8},{"x":5.5,"xAGB":-10.0},{"x":5.6,"xAGB":-9.4},{"x":5.7,"xAGB":-9.2},{"x":5.85,"xAGB":-8.8},{"x":5.9,"xAGB":-9.6},{"x":6.0,"xAGB":-9.1},{"x":6.1,"xAGB":-9.8},{"x":6.25,"xAGB":-10.2},{"x":6.4,"xAGB":-10.1},{"x":6.55,"xAGB":-9.3},{"x":6.7,"xAGB":-10.4},{"x":6.8,"xAGB":-10.0},{"x":6.9,"xAGB":-10.2},{"x":7.05,"xAGB":-9.8},{"x":7.2,"xAGB":-10.1},{"x":7.35,"xAGB":-9.9},{"x":6.75,"xAGB":-10.7},{"x":5.0,"xAGB":-10.9},{"x":4.6,"xAGB":-10.7},{"x":4.15,"xAGB":-10.6},{"x":3.65,"xAGB":-10.7},{"x":3.45,"xAGB":-10.3},{"x":3.9,"xAGB":-10.2},{"x":5.3,"xAGB":-8.5},{"x":5.0,"xAGB":-8.2},{"x":3.2,"xAGB":-7.7},{"x":6.15,"xAGB":-8.5},{"x":5.45,"xAGB":-9.25},
{"x":0.7,"SMC-RSG":-6.28},{"x":0.78,"SMC-RSG":-6.33},{"x":0.85,"SMC-RSG":-6.27},{"x":0.93,"SMC-RSG":-6.31},
{"x":0.68,"SMC-RSG":-6.47},{"x":0.76,"SMC-RSG":-6.42},{"x":0.84,"SMC-RSG":-6.48},{"x":0.9,"SMC-RSG":-6.43},{"x":0.98,"SMC-RSG":-6.46},
{"x":0.72,"SMC-RSG":-6.58},{"x":0.8,"SMC-RSG":-6.63},{"x":0.87,"SMC-RSG":-6.57},{"x":0.95,"SMC-RSG":-6.62},
{"x":0.74,"SMC-RSG":-6.77},{"x":0.82,"SMC-RSG":-6.72},{"x":0.88,"SMC-RSG":-6.78},{"x":0.96,"SMC-RSG":-6.73},
{"x":0.75,"SMC-RSG":-6.88},{"x":0.83,"SMC-RSG":-6.93},{"x":0.9,"SMC-RSG":-6.87},{"x":0.97,"SMC-RSG":-6.92},
{"x":0.77,"SMC-RSG":-7.07},{"x":0.85,"SMC-RSG":-7.02},{"x":0.91,"SMC-RSG":-7.08},{"x":0.98,"SMC-RSG":-7.03},
{"x":0.78,"SMC-RSG":-7.18},{"x":0.86,"SMC-RSG":-7.23},{"x":0.92,"SMC-RSG":-7.17},{"x":1.0,"SMC-RSG":-7.22},
{"x":0.8,"SMC-RSG":-7.37},{"x":0.87,"SMC-RSG":-7.32},{"x":0.94,"SMC-RSG":-7.38},{"x":1.01,"SMC-RSG":-7.33},
{"x":0.81,"SMC-RSG":-7.48},{"x":0.88,"SMC-RSG":-7.53},{"x":0.95,"SMC-RSG":-7.47},{"x":1.02,"SMC-RSG":-7.52},
{"x":0.82,"SMC-RSG":-7.67},{"x":0.89,"SMC-RSG":-7.62},{"x":0.96,"SMC-RSG":-7.68},{"x":1.03,"SMC-RSG":-7.63},
{"x":0.83,"SMC-RSG":-7.78},{"x":0.9,"SMC-RSG":-7.83},{"x":0.97,"SMC-RSG":-7.77},{"x":1.04,"SMC-RSG":-7.82},
{"x":0.84,"SMC-RSG":-7.97},{"x":0.91,"SMC-RSG":-7.92},{"x":0.98,"SMC-RSG":-7.98},{"x":1.05,"SMC-RSG":-7.93},
{"x":0.85,"SMC-RSG":-8.08},{"x":0.92,"SMC-RSG":-8.13},{"x":0.99,"SMC-RSG":-8.07},{"x":1.06,"SMC-RSG":-8.12},
{"x":0.86,"SMC-RSG":-8.27},{"x":0.93,"SMC-RSG":-8.22},{"x":1.0,"SMC-RSG":-8.28},{"x":1.07,"SMC-RSG":-8.23},
{"x":0.87,"SMC-RSG":-8.38},{"x":0.94,"SMC-RSG":-8.43},{"x":1.01,"SMC-RSG":-8.37},
{"x":0.88,"SMC-RSG":-8.57},{"x":0.95,"SMC-RSG":-8.52},{"x":1.02,"SMC-RSG":-8.58},
{"x":0.89,"SMC-RSG":-8.68},{"x":0.96,"SMC-RSG":-8.73},{"x":1.03,"SMC-RSG":-8.67},
{"x":0.9,"SMC-RSG":-8.87},{"x":0.97,"SMC-RSG":-8.82},{"x":1.04,"SMC-RSG":-8.88},
{"x":0.91,"SMC-RSG":-8.98},{"x":0.98,"SMC-RSG":-9.03},{"x":1.05,"SMC-RSG":-8.97},
{"x":0.92,"SMC-RSG":-9.17},{"x":0.99,"SMC-RSG":-9.12},{"x":1.06,"SMC-RSG":-9.18},
{"x":0.93,"SMC-RSG":-9.28},{"x":1.0,"SMC-RSG":-9.33},{"x":0.95,"SMC-RSG":-9.47},{"x":1.02,"SMC-RSG":-9.42},
{"x":0.96,"SMC-RSG":-9.58},{"x":1.03,"SMC-RSG":-9.63},{"x":0.98,"SMC-RSG":-9.82},{"x":1.04,"SMC-RSG":-9.77},
{"x":0.88,"SMC-RSG":-6.55},{"x":0.92,"SMC-RSG":-6.85},{"x":0.89,"SMC-RSG":-7.15},{"x":0.93,"SMC-RSG":-7.45},{"x":0.9,"SMC-RSG":-7.75},{"x":0.95,"SMC-RSG":-8.05},{"x":0.92,"SMC-RSG":-8.35},{"x":0.97,"SMC-RSG":-8.65},{"x":0.94,"SMC-RSG":-8.95},{"x":0.98,"SMC-RSG":-9.25},{"x":0.81,"SMC-RSG":-6.6},{"x":0.86,"SMC-RSG":-6.38},
{"x":0.9,"SMC-RSG":-10.0},{"x":1.05,"SMC-RSG":-10.15},{"x":0.95,"SMC-RSG":-10.3},{"x":1.1,"SMC-RSG":-10.45},{"x":0.85,"SMC-RSG":-10.6},{"x":1.02,"SMC-RSG":-10.7},{"x":1.15,"SMC-RSG":-10.8},{"x":1.05,"SMC-RSG":-10.95},{"x":1.12,"SMC-RSG":-11.1},{"x":1.08,"SMC-RSG":-11.25},{"x":1.18,"SMC-RSG":-10.5},{"x":0.75,"SMC-RSG":-10.5},{"x":1.43,"SMC-RSG":-12.0},{"x":1.55,"SMC-RSG":-11.3},{"x":1.35,"SMC-RSG":-10.9},{"x":1.6,"SMC-RSG":-10.8},{"x":1.3,"SMC-RSG":-10.0},{"x":1.5,"SMC-RSG":-10.1},{"x":0.6,"SMC-RSG":-9.7},
{"x":-0.22,"SMC-RSG":-6.4},{"x":0.2,"SMC-RSG":-5.8},{"x":0.42,"SMC-RSG":-5.25},{"x":0.4,"SMC-RSG":-7.2},{"x":0.4,"SMC-RSG":-8.45},{"x":0.45,"SMC-RSG":-9.0},{"x":0.55,"SMC-RSG":-8.0},{"x":0.6,"SMC-RSG":-7.7},{"x":0.5,"SMC-RSG":-6.8},{"x":0.35,"SMC-RSG":-6.1},{"x":0.62,"SMC-RSG":-6.1},
{"x":1.15,"SMC-RSG":-8.5},{"x":1.2,"SMC-RSG":-9.2},{"x":1.25,"SMC-RSG":-7.8},{"x":1.1,"SMC-RSG":-7.6}
],
"gb":[
{"x":1.72,"y":-8.83,"c":"Gal-cAGB"},{"x":2.19,"y":-6.8,"c":"Gal-cAGB"},{"x":1.95,"y":-7.13,"c":"Gal-cAGB"},{"x":2.45,"y":-9.17,"c":"Gal-cAGB"},{"x":2.84,"y":-8.99,"c":"Gal-cAGB"},{"x":3.05,"y":-9.09,"c":"Gal-cAGB"},{"x":3.0,"y":-8.57,"c":"Gal-cAGB"},{"x":2.39,"y":-8.03,"c":"Gal-cAGB"},{"x":3.71,"y":-9.89,"c":"Gal-cAGB"},{"x":4.64,"y":-10.35,"c":"Gal-cAGB"},{"x":4.97,"y":-9.32,"c":"Gal-cAGB"},{"x":7.07,"y":-10.38,"c":"Gal-cAGB"},{"x":2.05,"y":-7.98,"c":"Gal-cAGB"},{"x":2.36,"y":-9.12,"c":"Gal-cAGB"},
{"x":1.59,"y":-10.03,"c":"Gal-oAGB"},{"x":1.63,"y":-9.32,"c":"Gal-oAGB"},{"x":6.5,"y":-8.71,"c":"Gal-oAGB"},{"x":1.25,"y":-5.35,"c":"Gal-oAGB"},{"x":2.61,"y":-8.97,"c":"Gal-oAGB"},{"x":2.32,"y":-8.87,"c":"Gal-oAGB"},{"x":2.05,"y":-8.68,"c":"Gal-oAGB"},{"x":1.8,"y":-8.51,"c":"Gal-oAGB"},{"x":1.58,"y":-7.94,"c":"Gal-oAGB"},{"x":1.7,"y":-7.94,"c":"Gal-oAGB"},{"x":2.0,"y":-7.67,"c":"Gal-oAGB"},{"x":2.16,"y":-7.86,"c":"Gal-oAGB"},{"x":1.35,"y":-7.42,"c":"Gal-oAGB"},{"x":1.42,"y":-7.18,"c":"Gal-oAGB"},{"x":1.59,"y":-7.1,"c":"Gal-oAGB"},
{"x":1.35,"y":-8.08,"c":"Gal-S-type-AGB"},{"x":1.85,"y":-8.18,"c":"Gal-S-type-AGB"},{"x":2.26,"y":-8.13,"c":"Gal-S-type-AGB"},{"x":1.56,"y":-7.58,"c":"Gal-S-type-AGB"},{"x":1.65,"y":-7.62,"c":"Gal-S-type-AGB"},{"x":1.69,"y":-7.46,"c":"Gal-S-type-AGB"},{"x":1.62,"y":-7.36,"c":"Gal-S-type-AGB"},{"x":2.2,"y":-8.75,"c":"Gal-S-type-AGB"},
{"x":3.0,"y":-12.26,"c":"Gal-RSG"},{"x":6.39,"y":-12.56,"c":"Gal-RSG"},{"x":1.86,"y":-10.58,"c":"Gal-RSG"},{"x":2.22,"y":-10.62,"c":"Gal-RSG"},{"x":1.51,"y":-8.27,"c":"Gal-RSG"}
]
},
"hconcat":[
{
"width":428,"height":342,
"encoding":{
 "x":{"field":"x","type":"quantitative","scale":{"domain":[0,3],"nice":false,"zero":false},"axis":{"values":[0,0.5,1,1.5,2,2.5,3],"format":".1f","title":"J − K"}},
 "y":{"field":"y","type":"quantitative","scale":{"domain":[-12,-5.5],"nice":false,"zero":false,"reverse":true},"axis":{"values":[-12,-11,-10,-9,-8,-7,-6],"format":"d","title":"K"}}
},
"layer":[
 {"data":{"name":"sa"},"transform":[{"fold":["cAGB","oAGB","xAGB","SMC-RSG"],"as":["c","y"]}],
  "mark":{"type":"point","filled":true,"opacity":0.75,"strokeWidth":0,"clip":true},
  "encoding":{
   "color":{"field":"c","type":"nominal","legend":null,"scale":{"domain":["cAGB","oAGB","xAGB","SMC-RSG","Gal-cAGB","Gal-oAGB","Gal-S-type-AGB","Gal-RSG"],"range":["#1f1fff","#c000c0","#2e8b2e","#ff1a1a","#0000ff","#b000b0","#ffc0cb","#ffa500"]}},
   "size":{"field":"c","type":"ordinal","legend":null,"scale":{"type":"ordinal","domain":["cAGB","oAGB","xAGB","SMC-RSG","Gal-cAGB","Gal-oAGB","Gal-S-type-AGB","Gal-RSG"],"range":[22,24,9,16,85,85,85,85]}},
   "shape":{"field":"c","type":"nominal","legend":null,"scale":{"domain":["cAGB","oAGB","xAGB","SMC-RSG","Gal-cAGB","Gal-oAGB","Gal-S-type-AGB","Gal-RSG"],"range":["circle","circle","circle","square","circle","circle","circle","circle"]}}
  }},
 {"data":{"values":[{"x":0.87,"y":-5.5,"x2":1.34,"y2":-12},{"x":1.157,"y":-5.5,"x2":1.633,"y2":-12},{"x":0,"y":-5.5,"x2":3,"y2":-6.93}]},
  "mark":{"type":"rule","color":"#000","strokeWidth":1.8,"clip":true},
  "encoding":{"x2":{"field":"x2"},"y2":{"field":"y2"}}},
 {"data":{"values":[{"x":0.51,"y":-5.5,"x2":1.01,"y2":-12},{"x":0.82,"y":-5.5,"x2":1.31,"y2":-12}]},
  "mark":{"type":"rule","color":"#e8141c","strokeWidth":1.8,"strokeDash":[8,4],"clip":true},
  "encoding":{"x2":{"field":"x2"},"y2":{"field":"y2"}}},
 {"data":{"values":[{"x":0.05,"y":-6.5,"x2":3,"y2":-6.5}]},
  "mark":{"type":"rule","color":"#000","strokeWidth":1.8,"strokeDash":[2,3.2],"clip":true},
  "encoding":{"x2":{"field":"x2"},"y2":{"field":"y2"}}},
 {"data":{"name":"ga"},
  "mark":{"type":"point","filled":true,"opacity":1,"stroke":"#ffffff","strokeWidth":1},
  "encoding":{
   "color":{"field":"c","type":"nominal","legend":null,"scale":{"domain":["cAGB","oAGB","xAGB","SMC-RSG","Gal-cAGB","Gal-oAGB","Gal-S-type-AGB","Gal-RSG"],"range":["#1f1fff","#c000c0","#2e8b2e","#ff1a1a","#0000ff","#b000b0","#ffc0cb","#ffa500"]}},
   "size":{"field":"c","type":"ordinal","legend":null,"scale":{"type":"ordinal","domain":["cAGB","oAGB","xAGB","SMC-RSG","Gal-cAGB","Gal-oAGB","Gal-S-type-AGB","Gal-RSG"],"range":[22,24,9,16,85,85,85,85]}},
   "shape":{"field":"c","type":"nominal","legend":null,"scale":{"domain":["cAGB","oAGB","xAGB","SMC-RSG","Gal-cAGB","Gal-oAGB","Gal-S-type-AGB","Gal-RSG"],"range":["circle","circle","circle","square","circle","circle","circle","circle"]}}
  }},
 {"data":{"values":[{"x":1.47,"x2":2.27,"y":-10.47}]},
  "mark":{"type":"rule","color":"#f5cd00","strokeWidth":4},
  "encoding":{"x2":{"field":"x2"}}},
 {"data":{"values":[{"x":1.85,"y":-10.47}]},
  "mark":{"type":"point","filled":true,"fill":"#ffee22","stroke":"#f0c800","strokeWidth":2,"size":850,"opacity":1,"shape":"M0,-1L0.2245,-0.309L0.951,-0.309L0.363,0.118L0.588,0.809L0,0.382L-0.588,0.809L-0.363,0.118L-0.951,-0.309L-0.2245,-0.309Z"},
  "encoding":{}},
 {"data":{"values":[{"x":2.75,"y":-10.28}]},
  "mark":{"type":"point","filled":true,"color":"#000","size":150,"opacity":1,"shape":"M0,-1L0.6,0L0,1L-0.6,0Z"},
  "encoding":{}},
 {"data":{"values":[{"x":2.15,"y":-9.77}]},
  "mark":{"type":"point","filled":true,"color":"#f03030","size":90,"opacity":0.9,"shape":"M0,-1L0.2245,-0.309L0.951,-0.309L0.363,0.118L0.588,0.809L0,0.382L-0.588,0.809L-0.363,0.118L-0.951,-0.309L-0.2245,-0.309Z"},
  "encoding":{}},
 {"data":{"values":[{"x":1.385,"y":-11.82,"t":"K2"},{"x":1.66,"y":-11.82,"t":"K1"}]},
  "mark":{"type":"text","align":"left","baseline":"middle","fontSize":13,"color":"#262626"},
  "encoding":{"text":{"field":"t"}}},
 {"data":{"values":[{"x":2.05,"y":-9.53,"t":"c-AGB"},{"x":2.76,"y":-9.9,"t":"SMC055"},{"x":1.99,"y":-6.6,"t":"K0"},{"x":2.68,"y":-6.3,"t":"K-TRGB"}]},
  "mark":{"type":"text","align":"center","baseline":"middle","fontSize":13.5,"color":"#262626"},
  "encoding":{"text":{"field":"t"}}},
 {"data":{"values":[{"x":1.165,"y":-11.18,"t":"RSG"},{"x":1.42,"y":-10.95,"t":"o-AGB"}]},
  "mark":{"type":"text","align":"center","baseline":"middle","fontSize":13.5,"angle":-79,"color":"#262626"},
  "encoding":{"text":{"field":"t"}}},
 {"data":{"values":[{"x":0.31,"y":-11.1,"t":"(a)"}]},
  "mark":{"type":"text","align":"center","baseline":"middle","fontSize":21,"color":"#000"},
  "encoding":{"text":{"field":"t"}}}
]
},
{
"width":435,"height":342,
"encoding":{
 "x":{"field":"x","type":"quantitative","scale":{"domain":[-0.5,8],"nice":false,"zero":false},"axis":{"values":[0,1,2,3,4,5,6,7,8],"format":"d","title":"J − [CH1]"}},
 "y":{"field":"y","type":"quantitative","scale":{"domain":[-13,-4],"nice":false,"zero":false,"reverse":true},"axis":{"values":[-13,-12,-11,-10,-9,-8,-7,-6,-5,-4],"format":"d","title":"[CH1]"}}
},
"layer":[
 {"data":{"name":"sb"},"transform":[{"fold":["cAGB","oAGB","xAGB","SMC-RSG"],"as":["c","y"]}],
  "mark":{"type":"point","filled":true,"opacity":0.75,"strokeWidth":0,"clip":true},
  "encoding":{
   "color":{"field":"c","type":"nominal","scale":{"domain":["cAGB","oAGB","xAGB","SMC-RSG","Gal-cAGB","Gal-oAGB","Gal-S-type-AGB","Gal-RSG"],"range":["#1f1fff","#c000c0","#2e8b2e","#ff1a1a","#0000ff","#b000b0","#ffc0cb","#ffa500"]},
     "legend":{"orient":"bottom-right","columns":2,"title":null,"labelFontSize":14,"labelFont":"DejaVu Sans","labelColor":"#262626","columnPadding":32,"rowPadding":7,"padding":9,"offset":7,"strokeColor":"#cccccc","fillColor":"rgba(255,255,255,0.85)","cornerRadius":4,"labelOffset":20,"symbolOffset":10}},
   "size":{"field":"c","type":"ordinal","scale":{"type":"ordinal","domain":["cAGB","oAGB","xAGB","SMC-RSG","Gal-cAGB","Gal-oAGB","Gal-S-type-AGB","Gal-RSG"],"range":[22,24,9,16,85,85,85,85]},
     "legend":{"orient":"bottom-right","columns":2,"title":null,"labelFontSize":14,"labelFont":"DejaVu Sans","labelColor":"#262626","columnPadding":32,"rowPadding":7,"padding":9,"offset":7,"strokeColor":"#cccccc","fillColor":"rgba(255,255,255,0.85)","cornerRadius":4,"labelOffset":20,"symbolOffset":10}},
   "shape":{"field":"c","type":"nominal","scale":{"domain":["cAGB","oAGB","xAGB","SMC-RSG","Gal-cAGB","Gal-oAGB","Gal-S-type-AGB","Gal-RSG"],"range":["circle","circle","circle","square","circle","circle","circle","circle"]},
     "legend":{"orient":"bottom-right","columns":2,"title":null,"labelFontSize":14,"labelFont":"DejaVu Sans","labelColor":"#262626","columnPadding":32,"rowPadding":7,"padding":9,"offset":7,"strokeColor":"#cccccc","fillColor":"rgba(255,255,255,0.85)","cornerRadius":4,"labelOffset":20,"symbolOffset":10}}
  }},
 {"data":{"name":"gb"},
  "mark":{"type":"point","filled":true,"opacity":1,"stroke":"#ffffff","strokeWidth":1},
  "encoding":{
   "color":{"field":"c","type":"nominal","scale":{"domain":["cAGB","oAGB","xAGB","SMC-RSG","Gal-cAGB","Gal-oAGB","Gal-S-type-AGB","Gal-RSG"],"range":["#1f1fff","#c000c0","#2e8b2e","#ff1a1a","#0000ff","#b000b0","#ffc0cb","#ffa500"]}},
   "size":{"field":"c","type":"ordinal","scale":{"type":"ordinal","domain":["cAGB","oAGB","xAGB","SMC-RSG","Gal-cAGB","Gal-oAGB","Gal-S-type-AGB","Gal-RSG"],"range":[22,24,9,16,85,85,85,85]}},
   "shape":{"field":"c","type":"nominal","scale":{"domain":["cAGB","oAGB","xAGB","SMC-RSG","Gal-cAGB","Gal-oAGB","Gal-S-type-AGB","Gal-RSG"],"range":["circle","circle","circle","square","circle","circle","circle","circle"]}}
  }},
 {"data":{"values":[{"x":2.75,"x2":3.42,"y":-11.68}]},
  "mark":{"type":"rule","color":"#f5cd00","strokeWidth":4},
  "encoding":{"x2":{"field":"x2"}}},
 {"data":{"values":[{"x":3.07,"y":-11.68}]},
  "mark":{"type":"point","filled":true,"fill":"#ffee22","stroke":"#f0c800","strokeWidth":2,"size":1100,"opacity":1,"shape":"M0,-1L0.2245,-0.309L0.951,-0.309L0.363,0.118L0.588,0.809L0,0.382L-0.588,0.809L-0.363,0.118L-0.951,-0.309L-0.2245,-0.309Z"},
  "encoding":{}},
 {"data":{"values":[{"x":4.51,"y":-12.07}]},
  "mark":{"type":"point","filled":true,"color":"#000","size":150,"opacity":1,"shape":"M0,-1L0.6,0L0,1L-0.6,0Z"},
  "encoding":{}},
 {"data":{"values":[{"x":3.64,"y":-11.25},{"x":1.65,"y":-10.27}]},
  "mark":{"type":"point","filled":true,"color":"#f03030","size":90,"opacity":0.9,"shape":"M0,-1L0.2245,-0.309L0.951,-0.309L0.363,0.118L0.588,0.809L0,0.382L-0.588,0.809L-0.363,0.118L-0.951,-0.309L-0.2245,-0.309Z"},
  "encoding":{}},
 {"data":{"values":[{"x":4.71,"y":-11.52,"t":"SMC055"}]},
  "mark":{"type":"text","align":"center","baseline":"middle","fontSize":13.5,"color":"#262626"},
  "encoding":{"text":{"field":"t"}}},
 {"data":{"values":[{"x":0.47,"y":-11.7,"t":"(b)"}]},
  "mark":{"type":"text","align":"center","baseline":"middle","fontSize":21,"color":"#000"},
  "encoding":{"text":{"field":"t"}}}
]
}
]
}
